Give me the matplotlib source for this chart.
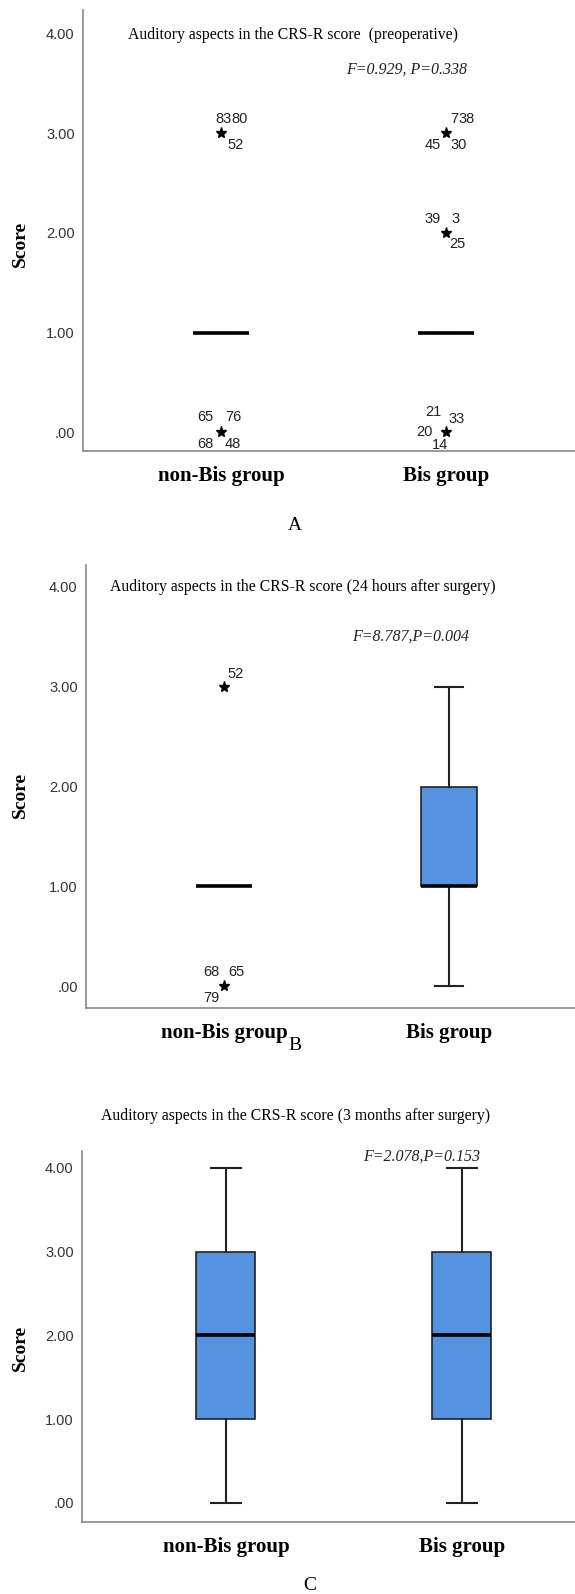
import matplotlib
matplotlib.use('Agg')
import matplotlib.pyplot as plt

# data
groups = ['non-Bis group', 'Bis group']
yticks = [0, 1, 2, 3, 4]
ytick_labels = ['.00', '1.00', '2.00', '3.00', '4.00']

# five numbers per group: whislo, q1, med, q3, whishi
A_non = [1, 1, 1, 1, 1]
A_bis = [1, 1, 1, 1, 1]
B_non = [1, 1, 1, 1, 1]
B_bis = [0, 1, 1, 2, 3]
C_non = [0, 1, 2, 3, 4]
C_bis = [0, 1, 2, 3, 4]

# extreme values (group position, score, case numbers)
A_out_group = [1, 1, 2, 2, 2]
A_out_value = [3, 0, 3, 2, 0]
A_out_ids = [['83', '80', '52'], ['65', '76', '68', '48'], ['7', '38', '45', '30'],
             ['39', '3', '25'], ['21', '33', '20', '14']]
B_out_group = [1, 1]
B_out_value = [3, 0]
B_out_ids = [['52'], ['68', '65', '79']]

titles = ['Auditory aspects in the CRS-R score  (preoperative)',
          'Auditory aspects in the CRS-R score (24 hours after surgery)',
          'Auditory aspects in the CRS-R score (3 months after surgery)']
stats_text = ['F=0.929, P=0.338', 'F=8.787,P=0.004', 'F=2.078,P=0.153']
panel_letters = ['A', 'B', 'C']

# label offsets in pixels from the star
A_offsets = [[(3, 14), (19, 14), (15, -12)],
             [(-16, 15), (12, 15), (-16, -12), (12, -12)],
             [(8, 14), (21, 14), (-13, -12), (13, -12)],
             [(-13, 14), (9, 14), (11, -11)],
             [(-13, 20), (11, 13), (-22, 0), (-6, -13)]]
B_offsets = [[(12, 13)], [(-13, 14), (12, 14), (-13, -12)]]

W, H = 575, 1594
fig = plt.figure(figsize=(W / 100, H / 100), dpi=100)

box_color = '#5593e0'
serif = 'Liberation Serif'
sans = 'Liberation Sans'


def make_axes(left, top, bottom, right=575):
    return fig.add_axes([left / W, 1 - bottom / H, (right - left) / W, (bottom - top) / H])


def five(v):
    return dict(whislo=v[0], q1=v[1], med=v[2], q3=v[3], whishi=v[4], fliers=[])


def draw_panel(ax, non, bis, xlim, ylim, ylabel_xy):
    ax.bxp([five(non), five(bis)], positions=[1, 2], widths=0.25, capwidths=0.125,
           patch_artist=True, showfliers=False,
           boxprops=dict(facecolor=box_color, edgecolor='#222222', linewidth=1.2),
           medianprops=dict(color='black', linewidth=2.6, solid_capstyle='butt'),
           whiskerprops=dict(color='#222222', linewidth=1.5),
           capprops=dict(color='#222222', linewidth=1.5))
    ax.set_xlim(*xlim)
    ax.set_ylim(*ylim)
    ax.set_xticks([1, 2])
    ax.set_xticklabels(groups, fontfamily=serif, fontweight='bold', fontsize=15)
    ax.set_yticks(yticks)
    ax.set_yticklabels(ytick_labels, fontfamily=sans, fontsize=10.5, color='#333333')
    ax.tick_params(axis='both', length=0)
    ax.tick_params(axis='x', pad=11)
    ax.tick_params(axis='y', pad=6)
    for s in ['top', 'right']:
        ax.spines[s].set_visible(False)
    for s in ['left', 'bottom']:
        ax.spines[s].set_color('#888888')
        ax.spines[s].set_linewidth(1.2)
    ax.set_ylabel('Score', fontfamily=serif, fontweight='bold', fontsize=14)
    ax.yaxis.set_label_coords(*ylabel_xy)


def draw_extremes(ax, grp, val, ids, offsets):
    ax.plot(grp, val, ls='none', marker='*', color='black', markersize=8)
    for g, v, labs, offs in zip(grp, val, ids, offsets):
        for lab, (dx, dy) in zip(labs, offs):
            ax.annotate(lab, (g, v), xytext=(dx, dy), textcoords='offset pixels',
                        ha='center', va='center', fontsize=10.5, fontfamily=sans,
                        color='#222222')


# panel A
axA = make_axes(83, 10, 451)
draw_panel(axA, A_non, A_bis, (0.387, 2.573), (-0.19, 4.24), ((29 - 83) / (575 - 83), 0.47))
draw_extremes(axA, A_out_group, A_out_value, A_out_ids, A_offsets)

# panel B
axB = make_axes(86, 565, 1008)
draw_panel(axB, B_non, B_bis, (0.387, 2.56), (-0.22, 4.22), ((29 - 86) / (575 - 86), 0.48))
draw_extremes(axB, B_out_group, B_out_value, B_out_ids, B_offsets)

# panel C
axC = make_axes(82, 1151, 1522)
draw_panel(axC, C_non, C_bis, (0.39, 2.48), (-0.227, 4.2), ((29 - 82) / (575 - 82), 0.47))

# titles, stats and letters
title_pos = [(293, 35), (303, 587), (296, 1116)]
stat_pos = [(407, 70), (411, 637), (422, 1157)]
letter_pos = [(295, 525), (295, 1046), (310, 1585)]
for t, (x, y) in zip(titles, title_pos):
    fig.text(x / W, 1 - y / H, t, ha='center', va='center', fontfamily=serif, fontsize=11.3)
for t, (x, y) in zip(stats_text, stat_pos):
    fig.text(x / W, 1 - y / H, t, ha='center', va='center', fontfamily=serif,
             fontstyle='italic', fontsize=11.5, color='#222222')
for t, (x, y) in zip(panel_letters, letter_pos):
    fig.text(x / W, 1 - y / H, t, ha='center', va='center', fontfamily=serif, fontsize=14)

fig.savefig('out.png', dpi=100, facecolor='white')
